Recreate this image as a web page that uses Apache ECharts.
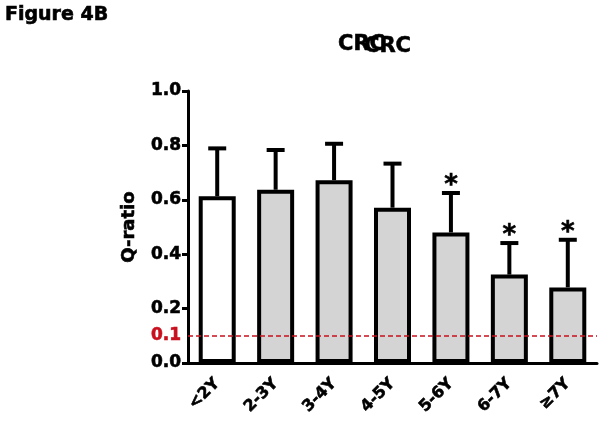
<!DOCTYPE html>
<html>
<head>
<meta charset="utf-8">
<script src="https://cdn.jsdelivr.net/npm/echarts@6/dist/echarts.min.js"></script>
<style>html,body{margin:0;padding:0;background:#fff}#c{width:604px;height:425px}</style>
</head>
<body>
<div id="c"></div>
<script>
var categories = ['<2Y', '2-3Y', '3-4Y', '4-5Y', '5-6Y', '6-7Y', '≥7Y'];
var means = [0.613, 0.637, 0.672, 0.571, 0.480, 0.325, 0.278];
var errHigh = [0.789, 0.783, 0.806, 0.733, 0.625, 0.441, 0.453];
var sig = ['', '', '', '', '*', '*', '*'];
var yTicks = [0, 0.2, 0.4, 0.6, 0.8, 1.0];
var refValue = 0.1;
var barColors = ['#ffffff', '#d4d4d4', '#d4d4d4', '#d4d4d4', '#d4d4d4', '#d4d4d4', '#d4d4d4'];

var FONT = 'DejaVu Sans';
var chart = echarts.init(document.getElementById('c'), null, {renderer: 'canvas'});

var barData = means.map(function (v, i) {
  return {value: v, itemStyle: {color: barColors[i]}};
});
var errData = means.map(function (v, i) { return [i, v, errHigh[i], sig[i]]; });

var heavy = {textBorderColor: '#000', textBorderWidth: 0.6};

var option = {
  backgroundColor: '#ffffff',
  animation: false,
  title: [
    {text: 'Figure 4B', left: 5, top: 6, padding: 0,
     textStyle: Object.assign({fontFamily: FONT, fontWeight: 'bold', fontSize: 19, color: '#000'}, heavy)},
    {text: 'CRC', left: 338, top: 34, padding: 0,
     textStyle: Object.assign({fontFamily: FONT, fontWeight: 'bold', fontSize: 21, color: '#000'}, heavy)},
    {text: 'CRC', left: 364, top: 36, padding: 0,
     textStyle: Object.assign({fontFamily: FONT, fontWeight: 'bold', fontSize: 21, color: '#000'}, heavy)}
  ],
  grid: {left: 188, right: 7, top: 91, bottom: 62, containLabel: false},
  xAxis: {
    type: 'category',
    data: categories,
    axisLine: {lineStyle: {color: '#000', width: 3}},
    axisTick: {alignWithLabel: true, length: 8, lineStyle: {color: '#000', width: 3}},
    axisLabel: Object.assign({rotate: 45, margin: 18, interval: 0, color: '#000',
      fontFamily: FONT, fontWeight: 'bold', fontSize: 16}, heavy)
  },
  yAxis: {
    type: 'value', min: 0, max: 1, interval: 0.2,
    name: 'Q-ratio', nameLocation: 'middle', nameGap: 50, nameRotate: 90,
    nameTextStyle: Object.assign({fontFamily: FONT, fontWeight: 'bold', fontSize: 18, color: '#000'}, heavy),
    axisLine: {show: true, lineStyle: {color: '#000', width: 3}},
    axisTick: {show: true, length: 6, lineStyle: {color: '#000', width: 3}, customValues: yTicks},
    splitLine: {show: false},
    axisLabel: Object.assign({
      margin: 7, color: '#000', fontFamily: FONT, fontWeight: 'bold', fontSize: 17,
      customValues: yTicks.concat([refValue]),
      formatter: function (v) {
        if (Math.abs(v - refValue) < 1e-9) return '{r|' + v.toFixed(1) + '}';
        return v.toFixed(1);
      },
      rich: {r: {color: '#c8101e', fontFamily: FONT, fontWeight: 'bold', fontSize: 17,
                 textBorderColor: '#c8101e', textBorderWidth: 0.6}}
    }, heavy)
  },
  series: [
    {
      type: 'bar',
      data: barData,
      barWidth: 37,
      itemStyle: {borderColor: '#000', borderWidth: 4},
      z: 2,
      markLine: {
        silent: true, symbol: ['none', 'none'],
        label: {show: false},
        lineStyle: {color: '#c8101e', type: [5, 3], width: 1.5},
        data: [{yAxis: refValue}]
      }
    },
    {
      type: 'custom',
      data: errData,
      z: 3,
      renderItem: function (params, api) {
        var i = api.value(0);
        var base = api.coord([i, api.value(1)]);
        var top = api.coord([i, api.value(2)]);
        var half = 9;
        var children = [
          {type: 'line', shape: {x1: base[0], y1: base[1], x2: top[0], y2: top[1]},
           style: {stroke: '#000', lineWidth: 4}},
          {type: 'line', shape: {x1: top[0] - half, y1: top[1], x2: top[0] + half, y2: top[1]},
           style: {stroke: '#000', lineWidth: 4}}
        ];
        var s = errData[params.dataIndex][3];
        if (s) {
          children.push({type: 'text', x: top[0], y: top[1] + 6,
            style: {text: s, fill: '#000', font: 'bold 26px "DejaVu Sans"',
                    stroke: '#000', lineWidth: 0.6,
                    align: 'center', verticalAlign: 'bottom'}});
        }
        return {type: 'group', children: children};
      }
    }
  ]
};
chart.setOption(option);
</script>
</body>
</html>
